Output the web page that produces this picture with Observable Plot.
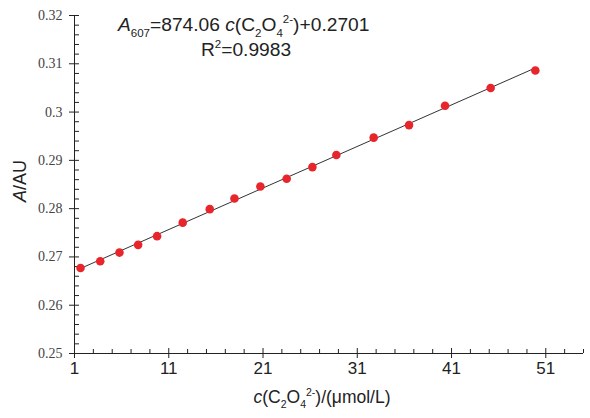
<!DOCTYPE html>
<html>
<head>
<meta charset="utf-8">
<script src="https://cdn.jsdelivr.net/npm/d3@7"></script>
<script src="https://cdn.jsdelivr.net/npm/@observablehq/plot@0.6"></script>
<style>
  html, body { margin: 0; padding: 0; background: #fff; }
  #chart { width: 590px; height: 418px; }
</style>
</head>
<body>
<div id="chart"></div>
<script>
// Data
const conc = [1.64, 3.73, 5.77, 7.75, 9.76, 12.48, 15.35, 17.97, 20.72, 23.51, 26.24, 28.78, 32.74, 36.49, 40.31, 45.15, 49.89];
const absorb = [0.2677, 0.2691, 0.2709, 0.2725, 0.2743, 0.2771, 0.2799, 0.2821, 0.2846, 0.2862, 0.2886, 0.2911, 0.2947, 0.2973, 0.3013, 0.3050, 0.3086];
const xMajorTicks = [1, 11, 21, 31, 41, 51];
const xMinorTicks = [3, 5, 7, 9, 13, 15, 17, 19, 23, 25, 27, 29, 33, 35, 37, 39, 43, 45, 47, 49, 53, 55];
const yMajorTicks = [0.25, 0.26, 0.27, 0.28, 0.29, 0.30, 0.31, 0.32];
const yMinorTicks = [0.252, 0.254, 0.256, 0.258, 0.262, 0.264, 0.266, 0.268, 0.272, 0.274, 0.276, 0.278,
  0.282, 0.284, 0.286, 0.288, 0.292, 0.294, 0.296, 0.298, 0.302, 0.304, 0.306, 0.308, 0.312, 0.314, 0.316, 0.318];

const data = conc.map((c, i) => ({c, a: absorb[i]}));
const axisColor = "#222";

const plot = Plot.plot({
  width: 590,
  height: 418,
  marginLeft: 74,
  marginRight: 7,
  marginTop: 15,
  marginBottom: 65,
  style: {background: "#fff", fontFamily: "'Liberation Sans', Arial, sans-serif"},
  x: {domain: [1, 55], label: null},
  y: {domain: [0.25, 0.32], label: null},
  marks: [
    // y axis ticks
    Plot.axisY({ticks: yMinorTicks, tickSize: 5, dx: 5, text: null, stroke: axisColor}),
    Plot.axisY({ticks: yMajorTicks, tickSize: 10, dx: 5, text: null, stroke: axisColor}),
    Plot.axisY({ticks: yMajorTicks, tickSize: 0, tickPadding: 12, tickFormat: d => String(+d.toFixed(2)),
      fontFamily: "'Liberation Serif', 'Times New Roman', serif", fontSize: 14, fill: "#444"}),
    // x axis ticks
    Plot.axisX({ticks: xMinorTicks, tickSize: 4, dy: -4, text: null, stroke: axisColor}),
    Plot.axisX({ticks: xMajorTicks, tickSize: 10, dy: -5, text: null, stroke: axisColor}),
    Plot.axisX({ticks: xMajorTicks, tickSize: 0, tickPadding: 8, tickFormat: d => String(d),
      fontSize: 17, fill: "#222"}),
    Plot.ruleX([1], {stroke: axisColor, strokeWidth: 1}),
    Plot.ruleY([0.25], {stroke: axisColor, strokeWidth: 1}),
    Plot.linearRegressionY(data, {x: "c", y: "a", ci: 0, stroke: "#333", strokeWidth: 1}),
    Plot.dot(data, {x: "c", y: "a", r: 4.3, fill: "#e8252b", stroke: null})
  ]
});

document.getElementById("chart").appendChild(plot);

// Rich text annotations with sub/superscripts
const svg = d3.select(plot);
function rich(parts, x, y, size, anchor, rotate) {
  const t = svg.append("text")
    .attr("x", x).attr("y", y)
    .attr("font-size", size)
    .attr("font-family", "'Liberation Sans', Arial, sans-serif")
    .attr("fill", "#222")
    .attr("text-anchor", anchor || "start");
  if (rotate) t.attr("transform", `rotate(${rotate},${x},${y})`);
  let offset = 0;
  for (const p of parts) {
    let target = 0, fs = size;
    if (p.sub) { target = size * 0.3; fs = size * 0.6; }
    if (p.sup) { target = -size * 0.4; fs = size * 0.6; }
    const s = t.append("tspan").text(p.t).attr("font-size", fs).attr("dy", target - offset);
    if (p.i) s.attr("font-style", "italic");
    offset = target;
  }
  return t;
}

rich([
  {t: "A", i: true}, {t: "607", sub: true}, {t: "=874.06 "}, {t: "c", i: true},
  {t: "(C"}, {t: "2", sub: true}, {t: "O"}, {t: "4", sub: true}, {t: "2-", sup: true}, {t: ")+0.2701"}
], 118, 31, 19.2, "start");

rich([{t: "R"}, {t: "2", sup: true}, {t: "=0.9983"}], 246, 56, 19.2, "middle");

rich([
  {t: "c", i: true}, {t: "(C"}, {t: "2", sub: true}, {t: "O"}, {t: "4", sub: true}, {t: "2-", sup: true},
  {t: ")/(μmol/L)"}
], 322, 403, 17.5, "middle");

rich([{t: "A", i: true}, {t: "/AU"}], 26, 181, 18, "middle", -90);
</script>
</body>
</html>
